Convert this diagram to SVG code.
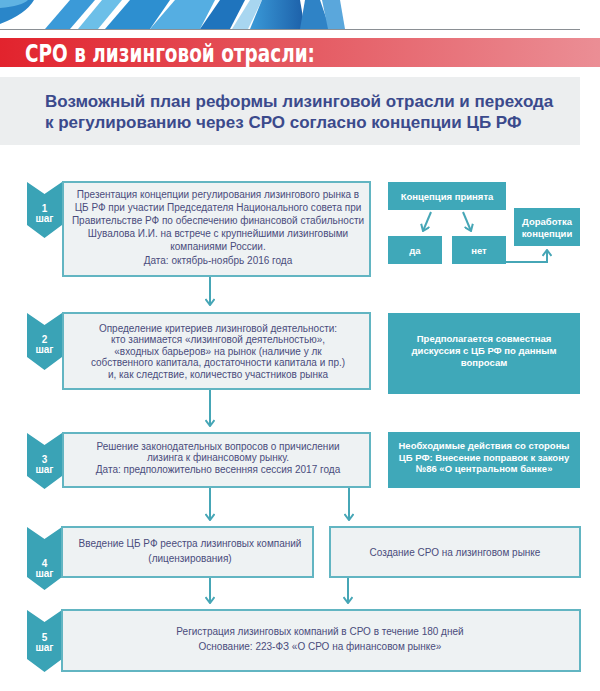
<svg xmlns="http://www.w3.org/2000/svg" width="600" height="691" viewBox="0 0 600 691">
<defs>
<linearGradient id="red" x1="0" y1="0" x2="1" y2="0">
<stop offset="0" stop-color="#e2232d"/>
<stop offset="0.45" stop-color="#e4545c"/>
<stop offset="1" stop-color="#eb8e95"/>
</linearGradient>
<linearGradient id="blu" x1="0" y1="0" x2="1" y2="0">
<stop offset="0" stop-color="#3a9ad8"/>
<stop offset="1" stop-color="#1c5fa8"/>
</linearGradient>
<marker id="arr" viewBox="0 0 10 10" refX="9" refY="5" markerWidth="10" markerHeight="10" markerUnits="userSpaceOnUse" orient="auto">
<path d="M3,0.5 L9,5 L3,9.5" fill="none" stroke="#46a6b6" stroke-width="2"/>
</marker>
<style>
.box{fill:#eef2f3;stroke:#62b5c2;stroke-width:2}
.tbox{fill:#3fa8b9}
.badge{fill:#3aa3b6}
.t{font-family:"Liberation Sans",Arial,sans-serif;font-size:10px;fill:#4a4c7c;text-anchor:middle}
.w{font-family:"Liberation Sans",Arial,sans-serif;font-size:9.5px;font-weight:bold;fill:#ffffff;text-anchor:middle}
.bt{font-family:"Liberation Sans",Arial,sans-serif;font-size:10px;font-weight:bold;fill:#ffffff;text-anchor:middle}
.c{fill:none;stroke:#46a6b6;stroke-width:2}
</style>
</defs>
<rect width="600" height="691" fill="#ffffff"/>
<g id="header">
<path d="M0,0 H30 Q20,14 0,18 Z" fill="#5fb3e2"/>
<path d="M0,8 Q22,6 28,0 H34 Q26,14 0,24 Z" fill="#2a86c9"/>
<polygon points="45,29 70,0 95,0 70,29" fill="#3b9ad8"/>
<polygon points="78,29 102,0 122,0 98,29" fill="#6cbfe8"/>
<polygon points="105,29 130,0 170,0 150,29" fill="#2d8fd0"/>
<polygon points="150,29 175,0 215,0 200,29" fill="#55aee2"/>
<polygon points="200,29 220,0 245,0 230,29" fill="#1f74bd"/>
<polygon points="232,29 250,0 262,0 248,29" fill="#a8d6f0"/>
<polygon points="250,29 262,0 300,0 305,29" fill="url(#blu)"/>
<polygon points="300,29 305,0 320,0 330,29" fill="#2f83c6"/>
<polygon points="328,29 322,0 340,0 345,29" fill="#5aa7dc"/>
<line x1="0" y1="29.5" x2="580" y2="29.5" stroke="#8a8f94" stroke-width="1"/>
</g>
<g id="titlebar">
<rect x="0" y="38" width="600" height="29" fill="url(#red)"/>
<text x="25" y="61.5" font-family="Liberation Sans Narrow,DejaVu Sans Condensed,Liberation Sans,sans-serif" font-size="24" font-weight="bold" fill="#ffffff" textLength="290" lengthAdjust="spacingAndGlyphs">СРО в лизинговой отрасли:</text>
</g>
<g id="subtitle">
<rect x="0" y="77" width="580" height="68" fill="#eceeef"/>
<text x="45" y="107" font-family="Liberation Sans,Arial,sans-serif" font-size="17" font-weight="bold" fill="#3b4a8c">Возможный план реформы лизинговой отрасли и перехода</text>
<text x="45" y="128" font-family="Liberation Sans,Arial,sans-serif" font-size="17" font-weight="bold" fill="#3b4a8c">к регулированию через СРО согласно концепции ЦБ РФ</text>
</g>
<g id="connectors">
<line class="c" x1="210" y1="277" x2="210" y2="305" marker-end="url(#arr)"/>
<line class="c" x1="210" y1="390" x2="210" y2="426" marker-end="url(#arr)"/>
<line class="c" x1="210" y1="488" x2="210" y2="520" marker-end="url(#arr)"/>
<line class="c" x1="349" y1="488" x2="349" y2="520" marker-end="url(#arr)"/>
<line class="c" x1="210" y1="578" x2="210" y2="603" marker-end="url(#arr)"/>
<line class="c" x1="348" y1="578" x2="348" y2="603" marker-end="url(#arr)"/>
<line class="c" x1="431" y1="212" x2="423" y2="231" marker-end="url(#arr)"/>
<line class="c" x1="463" y1="212" x2="471" y2="231" marker-end="url(#arr)"/>
<polyline class="c" points="506,262 547,262 547,250" marker-end="url(#arr)"/>
</g>
<g id="step1">
<polygon class="badge" points="27,182 44.5,194 62,182 62,225 44.5,238 27,225"/>
<text class="bt" x="44.5" y="212">1</text>
<text class="bt" x="44.5" y="222">шаг</text>
<rect class="box" x="63" y="182" width="307" height="94"/>
<text class="t" x="218" y="197.5">Презентация концепции регулирования лизингового рынка в</text>
<text class="t" x="218" y="210.7">ЦБ РФ при участии Председателя Национального совета при</text>
<text class="t" x="218" y="223.9">Правительстве РФ по обеспечению финансовой стабильности</text>
<text class="t" x="218" y="237.1">Шувалова И.И. на встрече с крупнейшими лизинговыми</text>
<text class="t" x="218" y="250.3">компаниями России.</text>
<text class="t" x="218" y="263.5">Дата: октябрь-ноябрь 2016 года</text>
</g>
<g id="concept">
<rect class="tbox" x="388" y="182" width="118" height="28"/>
<text class="w" x="447" y="199.5">Концепция принята</text>
</g>
<g id="yes">
<rect class="tbox" x="388" y="236" width="54" height="28"/>
<text class="w" x="415" y="253.5">да</text>
</g>
<g id="no">
<rect class="tbox" x="452" y="236" width="54" height="28"/>
<text class="w" x="479" y="253.5">нет</text>
</g>
<g id="rework">
<rect class="tbox" x="514" y="208" width="66" height="38"/>
<text class="w" x="547" y="224.5">Доработка</text>
<text class="w" x="547" y="236.5">концепции</text>
</g>
<g id="step2">
<polygon class="badge" points="27,313 44.5,325 62,313 62,357 44.5,370 27,357"/>
<text class="bt" x="44.5" y="343">2</text>
<text class="bt" x="44.5" y="353">шаг</text>
<rect class="box" x="63" y="313" width="307" height="76"/>
<text class="t" x="218" y="331.5">Определение критериев лизинговой деятельности:</text>
<text class="t" x="218" y="343">кто занимается «лизинговой деятельностью»,</text>
<text class="t" x="218" y="354.5">«входных барьеров» на рынок (наличие у лк</text>
<text class="t" x="218" y="366">собственного капитала, достаточности капитала и пр.)</text>
<text class="t" x="218" y="377.5">и, как следствие, количество участников рынка</text>
</g>
<g id="discuss">
<rect class="tbox" x="388" y="313" width="192" height="81"/>
<text class="w" x="484" y="342">Предполагается совместная</text>
<text class="w" x="484" y="354">дискуссия с ЦБ РФ по данным</text>
<text class="w" x="484" y="366">вопросам</text>
</g>
<g id="step3">
<polygon class="badge" points="27,433 44.5,445 62,433 62,476 44.5,489 27,476"/>
<text class="bt" x="44.5" y="463">3</text>
<text class="bt" x="44.5" y="473">шаг</text>
<rect class="box" x="63" y="433" width="307" height="54"/>
<text class="t" x="218" y="449.5">Решение законодательных вопросов о причислении</text>
<text class="t" x="218" y="461">лизинга к финансовому рынку.</text>
<text class="t" x="218" y="472.5">Дата: предположительно весенняя сессия 2017 года</text>
</g>
<g id="cbactions">
<rect class="tbox" x="388" y="432" width="192" height="56"/>
<text class="w" x="484" y="449">Необходимые действия со стороны</text>
<text class="w" x="484" y="460.5">ЦБ РФ: Внесение поправок к закону</text>
<text class="w" x="484" y="472">№86 «О центральном банке»</text>
</g>
<g id="step4">
<polygon class="badge" points="27,527 44.5,539 62,527 62,577 44.5,590 27,577"/>
<text class="bt" x="44.5" y="567">4</text>
<text class="bt" x="44.5" y="577">шаг</text>
<rect class="box" x="62" y="527" width="251" height="50"/>
<text class="t" x="190" y="547">Введение ЦБ РФ реестра лизинговых компаний</text>
<text class="t" x="190" y="562">(лицензирования)</text>
</g>
<g id="sro">
<rect class="box" x="330" y="527" width="250" height="50"/>
<text class="t" x="455" y="556">Создание СРО на лизинговом рынке</text>
</g>
<g id="step5">
<polygon class="badge" points="27,610 44.5,622 62,610 62,659 44.5,672 27,659"/>
<text class="bt" x="44.5" y="641">5</text>
<text class="bt" x="44.5" y="651">шаг</text>
<rect class="box" x="62" y="610" width="518" height="61"/>
<text class="t" x="320" y="635">Регистрация лизинговых компаний в СРО в течение 180 дней</text>
<text class="t" x="320" y="650">Основание: 223-ФЗ «О СРО на финансовом рынке»</text>
</g>
</svg>
